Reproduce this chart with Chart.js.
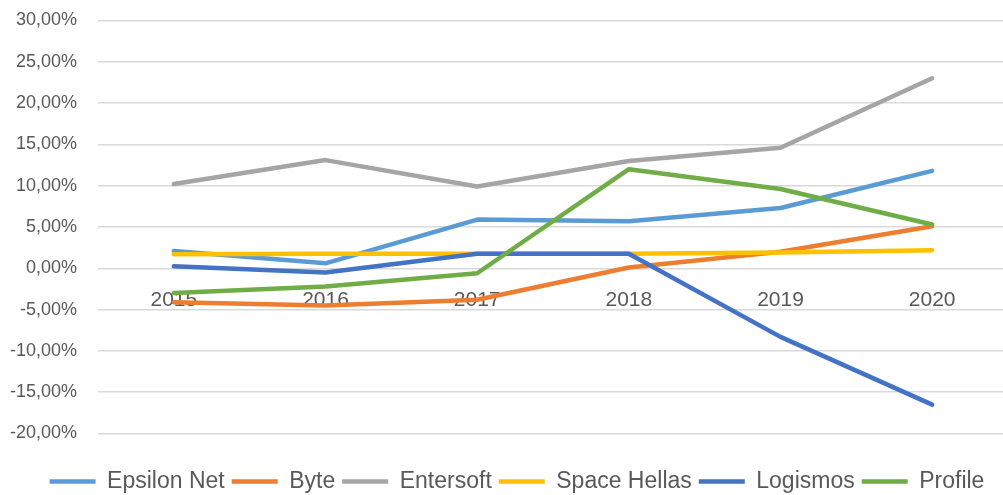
<!DOCTYPE html>
<html>
<head>
<meta charset="utf-8">
<script src="https://cdn.jsdelivr.net/npm/chart.js@4"></script>
<style>
  html, body { margin: 0; padding: 0; background: #fff; overflow: hidden; }
  #wrap { width: 1008px; height: 503px; }
</style>
</head>
<body>
<div id="wrap"><canvas id="chart"></canvas></div>
<script>
'use strict';

/* datos (en %) */
const YEARS = ['2015', '2016', '2017', '2018', '2019', '2020'];
const SERIES_NAMES = ['Epsilon Net', 'Byte', 'Entersoft', 'Space Hellas', 'Logismos', 'Profile'];
const EPSILON_NET  = [2.1, 0.6, 5.9, 5.7, 7.3, 11.8];
const BYTE         = [-4.1, -4.5, -3.8, 0.1, 2.0, 5.1];
const ENTERSOFT    = [10.2, 13.1, 9.9, 13.0, 14.6, 23.0];
const SPACE_HELLAS = [1.7, 1.75, 1.75, 1.75, 1.9, 2.2];
const LOGISMOS     = [0.25, -0.5, 1.75, 1.75, -8.3, -16.5];
const PROFILE      = [-3.0, -2.2, -0.6, 12.0, 9.6, 5.3];
const Y_TICKS      = [-20, -15, -10, -5, 0, 5, 10, 15, 20, 25, 30];

const COLORS = ['#5B9BD5', '#ED7D31', '#A5A5A5', '#FFC000', '#4472C4', '#70AD47'];
const VALUES = [EPSILON_NET, BYTE, ENTERSOFT, SPACE_HELLAS, LOGISMOS, PROFILE];

const TEXT = '#595959';
const FONT = "'Liberation Sans', Arial, sans-serif";

function pct(v) {
  return v.toFixed(2).replace('.', ',') + '%';
}

const datasets = SERIES_NAMES.map((name, i) => ({
  label: name,
  data: VALUES[i],
  borderColor: COLORS[i],
  backgroundColor: COLORS[i],
  borderWidth: 4.5,
  borderCapStyle: 'round',
  borderJoinStyle: 'round',
  pointRadius: 0,
  tension: 0,
  order: -i   // la ultima serie queda encima, como en Excel
}));

// la leyenda de Excel esta un poco desplazada a la derecha
const shiftLegend = {
  id: 'shiftLegend',
  afterLayout(chart) {
    chart.legend.left += 13;
    chart.legend.right += 13;
  }
};

new Chart(document.getElementById('chart'), {
  type: 'line',
  data: { labels: YEARS, datasets },
  plugins: [shiftLegend],
  options: {
    responsive: true,
    maintainAspectRatio: false,
    animation: false,
    layout: { padding: { left: 0, top: 20.5, right: 0, bottom: 0 } },
    plugins: {
      tooltip: { enabled: false },
      legend: {
        position: 'bottom',
        title: { display: true, text: '', font: { size: 10 }, padding: { top: 17.5, bottom: 0 } },
        labels: {
          usePointStyle: true,
          pointStyle: 'line',
          pointStyleWidth: 46,
          padding: 7,
          color: TEXT,
          font: { family: FONT, size: 23 },
          sort: (a, b) => a.datasetIndex - b.datasetIndex
        }
      }
    },
    scales: {
      x: {
        position: { y: 0 },
        offset: true,
        grid: { display: false, offset: true },
        border: { display: false },
        ticks: { color: TEXT, font: { family: FONT, size: 21 }, padding: 11, maxRotation: 0 }
      },
      y: {
        min: Y_TICKS[0],
        max: Y_TICKS[Y_TICKS.length - 1],
        afterFit: (s) => { s.width = 98; },
        afterBuildTicks: (s) => { s.ticks = Y_TICKS.map(v => ({ value: v })); },
        // hueco entre etiqueta y area: marca de 21px invisible
        grid: { color: '#D9D9D9', lineWidth: 1.5, drawTicks: true, tickLength: 21, tickColor: 'rgba(0,0,0,0)' },
        border: { display: false },
        ticks: { color: TEXT, font: { family: FONT, size: 18 }, padding: 0, callback: (v) => pct(v) }
      }
    }
  }
});
</script>
</body>
</html>
